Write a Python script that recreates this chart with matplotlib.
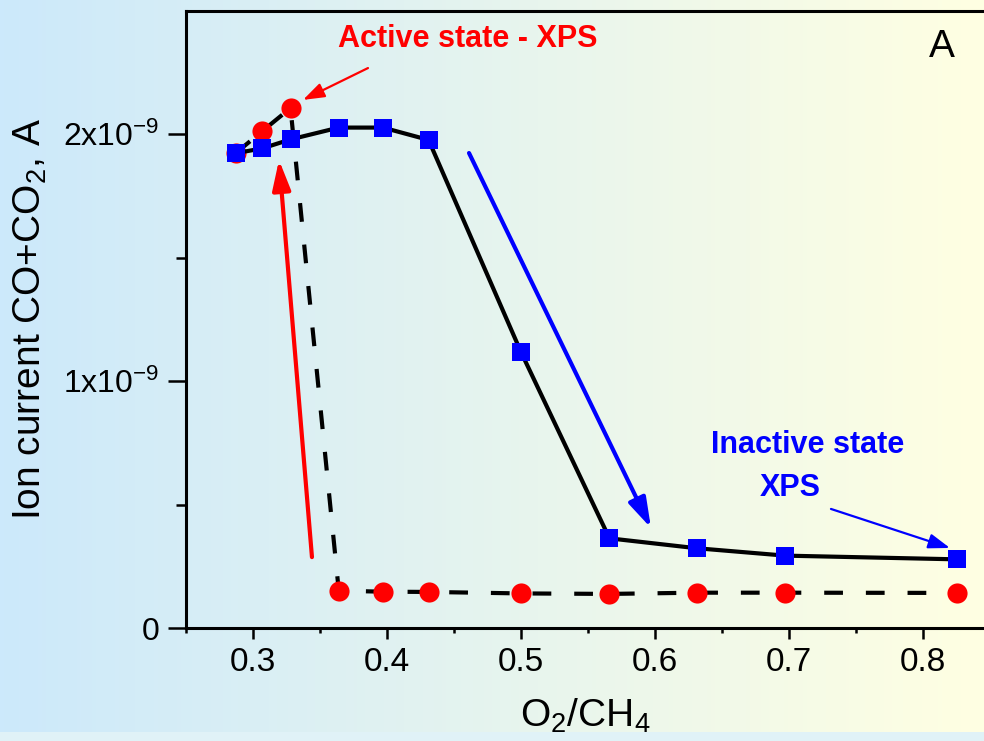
import numpy as np
import matplotlib
matplotlib.use('Agg')
import matplotlib.pyplot as plt
from matplotlib.ticker import FixedLocator, FixedFormatter
from matplotlib.patches import Rectangle

plt.rcParams['font.family'] = ['Liberation Sans', 'DejaVu Sans']
plt.rcParams['mathtext.fontset'] = 'custom'
plt.rcParams['mathtext.rm'] = 'Liberation Sans'
plt.rcParams['mathtext.it'] = 'Liberation Sans:italic'
plt.rcParams['mathtext.bf'] = 'Liberation Sans:bold'

# ---- data ----
ratio = [0.287, 0.307, 0.328, 0.364, 0.397, 0.431, 0.500, 0.566, 0.631, 0.697, 0.825]
ion_inactive = [1.922, 1.942, 1.978, 2.026, 2.026, 1.976, 1.117, 0.363, 0.323, 0.293, 0.278]  # x1e-9 A
ion_active = [1.922, 2.012, 2.105, 0.151, 0.147, 0.146, 0.140, 0.138, 0.143, 0.143, 0.142]    # x1e-9 A
scale = 1e-9
ytick_vals = [0, 1e-9, 2e-9]
ytick_labels = ['0', '1x10$^{-9}$', '2x10$^{-9}$']
xtick_vals = [0.3, 0.4, 0.5, 0.6, 0.7, 0.8]
xtick_labels = ['0.3', '0.4', '0.5', '0.6', '0.7', '0.8']

W, H = 984, 741
fig = plt.figure(figsize=(W / 100, H / 100), dpi=100)

# background gradient
bg = fig.add_axes([0, 0, 1, 1], zorder=-10)
t = np.linspace(0, 1, 256)
c0 = np.array([204, 233, 251]) / 255
c1 = np.array([255, 255, 226]) / 255
grad = (c0[None, :] * (1 - t[:, None]) + c1[None, :] * t[:, None])[None, :, :]
bg.imshow(grad, aspect='auto', extent=[0, 1, 0, 1])
bg.add_patch(Rectangle((0, 0), 1, 9 / H, color=(224 / 255, 242 / 255, 247 / 255), lw=0))
bg.set_xlim(0, 1)
bg.set_ylim(0, 1)
bg.axis('off')

ax = fig.add_axes([186 / W, (H - 628) / H, (W - 186) / W, 617 / H])
ax.patch.set_alpha(0)

y_a = np.array(ion_active) * scale
y_i = np.array(ion_inactive) * scale

ax.plot(ratio, y_a, color='black', lw=3, dashes=(4.5, 5.5), zorder=2)
ax.plot(ratio, y_a, 'o', color='#ff0000', ms=14.5, mew=0, zorder=3)
ax.plot(ratio, y_i, color='black', lw=3, zorder=4)
ax.plot(ratio, y_i, 's', color='#0000ff', ms=12.5, mew=0, zorder=5)

ax.set_xlim(0.25, 0.8455)
ax.set_ylim(0, 2.498e-9)

ax.xaxis.set_major_locator(FixedLocator(xtick_vals))
ax.xaxis.set_major_formatter(FixedFormatter(xtick_labels))
ax.xaxis.set_minor_locator(FixedLocator([0.25, 0.35, 0.45, 0.55, 0.65, 0.75]))
ax.yaxis.set_major_locator(FixedLocator(ytick_vals))
ax.yaxis.set_major_formatter(FixedFormatter(ytick_labels))
ax.yaxis.set_minor_locator(FixedLocator([0.5e-9, 1.5e-9]))

ax.tick_params(axis='x', which='major', length=8, width=1.8, labelsize=24, pad=6, direction='out')
ax.tick_params(axis='x', which='minor', length=3.6, width=1.8, direction='out')
ax.tick_params(axis='y', which='major', length=13, width=1.8, labelsize=23, pad=6, direction='out')
ax.tick_params(axis='y', which='minor', length=7, width=1.8, direction='out')

for s in ['left', 'bottom', 'top']:
    ax.spines[s].set_linewidth(2.2)
ax.spines['right'].set_visible(False)

ax.set_xlabel('O$_2$/CH$_4$', fontsize=28)
ax.xaxis.set_label_coords(0.5, -0.112)
ax.xaxis.label.set_va('top')
ax.set_ylabel('Ion current CO+CO$_2$, A', fontsize=28)
ax.yaxis.set_label_coords(-0.172, 0.5)

# annotations
ax.text(0.4604, 2.352e-9, 'Active state - XPS', color='#ff0000', fontsize=22,
        fontweight='bold', ha='center', va='baseline')
ax.text(0.8142, 2.311e-9, 'A', color='black', fontsize=28, ha='center', va='baseline')
ax.text(0.7142, 0.707e-9, 'Inactive state', color='#0000ff', fontsize=22,
        fontweight='bold', ha='center', va='baseline')
ax.text(0.7007, 0.534e-9, 'XPS', color='#0000ff', fontsize=22,
        fontweight='bold', ha='center', va='baseline')

def arrow(x0, y0, x1, y1, color, lw, hl, hw):
    ax.annotate('', xy=(x1, y1), xytext=(x0, y0),
                arrowprops=dict(arrowstyle='-|>,head_length=%g,head_width=%g' % (hl, hw),
                                color=color, lw=lw, shrinkA=0, shrinkB=0,
                                mutation_scale=1), zorder=6)

arrow(0.3858, 2.267e-9, 0.3373, 2.138e-9, '#ff0000', 1.6, 13, 4.5)
arrow(0.3440, 0.287e-9, 0.3194, 1.895e-9, '#ff0000', 3, 18, 5.5)
arrow(0.4612, 1.923e-9, 0.5970, 0.405e-9, '#0000ff', 3, 18, 5.5)
arrow(0.7313, 0.482e-9, 0.8201, 0.324e-9, '#0000ff', 1.6, 13, 4.5)

fig.savefig('out.png', dpi=100)
